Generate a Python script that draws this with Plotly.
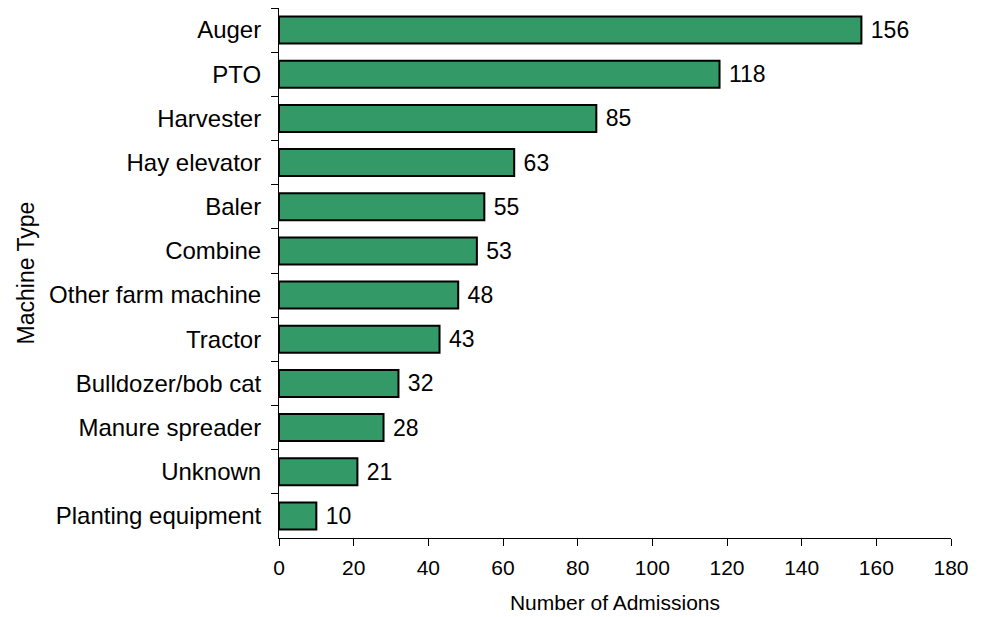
import plotly.graph_objects as go

machines = ["Auger", "PTO", "Harvester", "Hay elevator", "Baler", "Combine",
            "Other farm machine", "Tractor", "Bulldozer/bob cat", "Manure spreader",
            "Unknown", "Planting equipment"]
admissions = [156, 118, 85, 63, 55, 53, 48, 43, 32, 28, 21, 10]

FONT = "Liberation Sans, Arial, sans-serif"

fig = go.Figure(go.Bar(
    x=admissions, y=machines, orientation="h",
    marker=dict(color="#339966", line=dict(color="black", width=2)),
    text=[" " + str(v) for v in admissions], textposition="outside",
    textfont=dict(size=23, color="black", family=FONT),
    cliponaxis=False, hoverinfo="skip",
))

# page body has an 8px margin, so the figure is a little smaller than the window
fig.update_layout(
    width=976, height=609, plot_bgcolor="white", paper_bgcolor="white",
    margin=dict(l=271, r=33, t=0, b=79), bargap=0.39, showlegend=False,
    font=dict(family=FONT, color="black"),
)
fig.update_xaxes(range=[0, 180], dtick=20, showgrid=False, zeroline=False,
                 showline=True, linecolor="black", linewidth=1,
                 ticks="outside", ticklen=7, tickcolor="black", automargin=False,
                 ticklabelstandoff=4,
                 tickfont=dict(size=21), title=dict(text="Number of Admissions",
                 font=dict(size=21), standoff=17))
fig.update_yaxes(autorange="reversed", showgrid=False, showline=True,
                 linecolor="black", linewidth=1, ticks="outside", ticklen=7,
                 tickcolor="black", tickson="boundaries", automargin=False,
                 ticklabelstandoff=12,
                 tickfont=dict(size=24), title=dict(text="Machine Type",
                 font=dict(size=23), standoff=8))

fig.write_html("out.html")
